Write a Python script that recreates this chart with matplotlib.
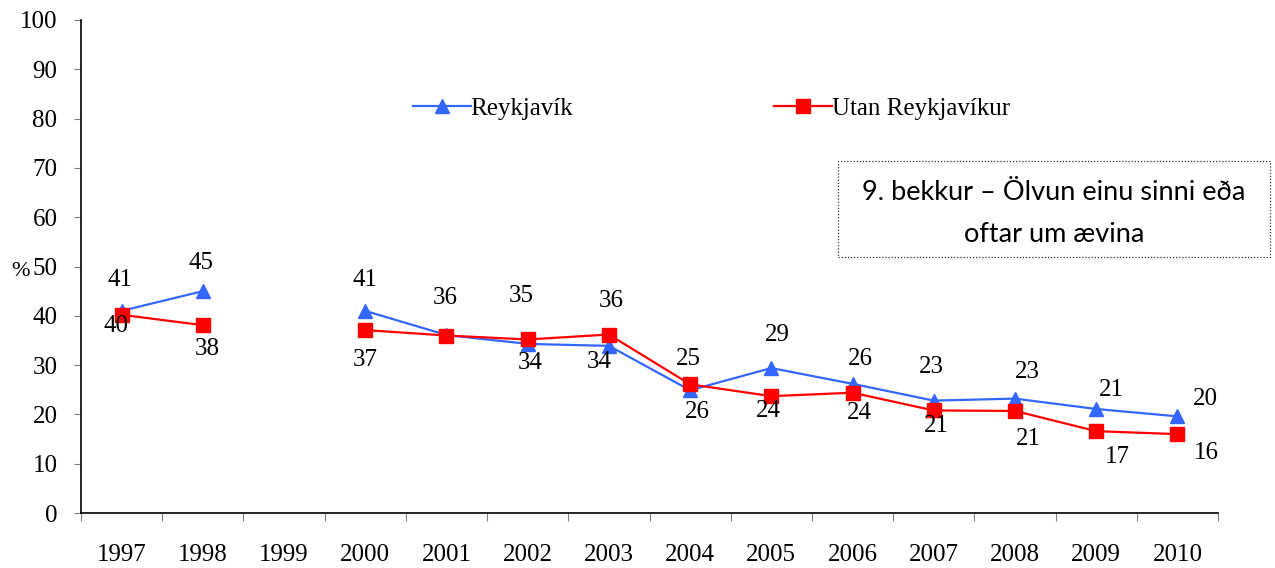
import numpy as np
import matplotlib
matplotlib.use("Agg")
import matplotlib.pyplot as plt
from matplotlib.patches import Rectangle

years = ["1997", "1998", "1999", "2000", "2001", "2002", "2003",
         "2004", "2005", "2006", "2007", "2008", "2009", "2010"]
reykjavik = [41.0, 45.0, np.nan, 41.0, 36.1, 34.3, 33.9,
             24.9, 29.4, 26.2, 22.8, 23.2, 21.1, 19.6]
utan = [40.2, 38.1, np.nan, 37.1, 36.0, 35.2, 36.2,
        26.1, 23.7, 24.4, 20.8, 20.7, 16.6, 16.0]

# label offsets in pixels (layout only); None = no label shown
rvk_off = [(-2, 31), (-2, 28), None, (0, 31), (-1, 37), (3, -19), (-10, -16),
           (-2, 31), (6, 33), (8, 25), (-2, 34), (12, 27), (15, 19), (28, 17)]
utan_off = [(-6, -11), (4, -24), None, (0, -30), None, (-6, 43), (2, 34),
            (7, -28), (-3, -15), (7, -20), (3, -16), (13, -28), (21, -26), (29, -19)]

serif = "Liberation Serif"
fig = plt.figure(figsize=(12.75, 5.68), dpi=100)
ax = fig.add_axes([81/1275, 55/568, (1218-81)/1275, (513-20)/568])

x = np.arange(len(years))
blue = "#3366FF"
red = "#FF0000"
ax.plot(x, reykjavik, color=blue, lw=1.6, marker="^", ms=10.5, label="Reykjavík", zorder=3)
ax.plot(x, utan, color=red, lw=1.6, marker="s", ms=9.5, label="Utan Reykjavíkur", zorder=4)

for i in range(len(years)):
    for vals, offs in ((reykjavik, rvk_off), (utan, utan_off)):
        v = vals[i]
        o = offs[i]
        if np.isnan(v) or o is None:
            continue
        ax.annotate(f"{int(round(v))}", (x[i], v), xytext=o, textcoords="offset pixels",
                    ha="center", va="center", fontsize=18, family=serif, color="black", zorder=5)

ax.set_xlim(-0.5, len(years) - 0.5)
ax.set_ylim(0, 100)
ax.set_yticks(range(0, 101, 10))
ax.set_yticklabels([str(v) for v in range(0, 101, 10)], family=serif, fontsize=18)
ax.set_xticks(x)
ax.set_xticklabels(years, family=serif, fontsize=18)
ax.set_xticks(np.arange(-0.5, len(years), 1), minor=True)
ax.tick_params(axis="x", which="major", length=0, pad=22)
ax.tick_params(axis="x", which="minor", length=6, color="#808080", width=0.8)
ax.tick_params(axis="y", which="major", length=5, color="#808080", width=0.8, pad=12)
for s in ("top", "right"):
    ax.spines[s].set_visible(False)
for s in ("left", "bottom"):
    ax.spines[s].set_linewidth(1.2)

fig.text(20/1275, 1 - 271/568, "%", family=serif, fontsize=16, ha="center", va="center")

leg = ax.legend(loc="upper left", bbox_to_anchor=(332/1137, 1 - 77/493), ncol=2, frameon=False,
                prop={"family": serif, "size": 18}, columnspacing=8.05, handlelength=2.3,
                handletextpad=0.0, borderaxespad=0, borderpad=0)

# text box
box = Rectangle((838/1275, 1 - 257/568), (1270-838)/1275, (257-161)/568,
                transform=fig.transFigure, fill=False, ls=(0, (1, 1.5)), lw=0.9,
                edgecolor="#333333")
fig.add_artist(box)
fig.text(1054/1275, 1 - 192/568, "9. bekkur – Ölvun einu sinni eða", family="Lato",
         fontsize=19.5, ha="center", va="center")
fig.text(1054/1275, 1 - 234/568, "oftar um ævina", family="Lato",
         fontsize=19.5, ha="center", va="center")

fig.savefig("out.png", dpi=100)
